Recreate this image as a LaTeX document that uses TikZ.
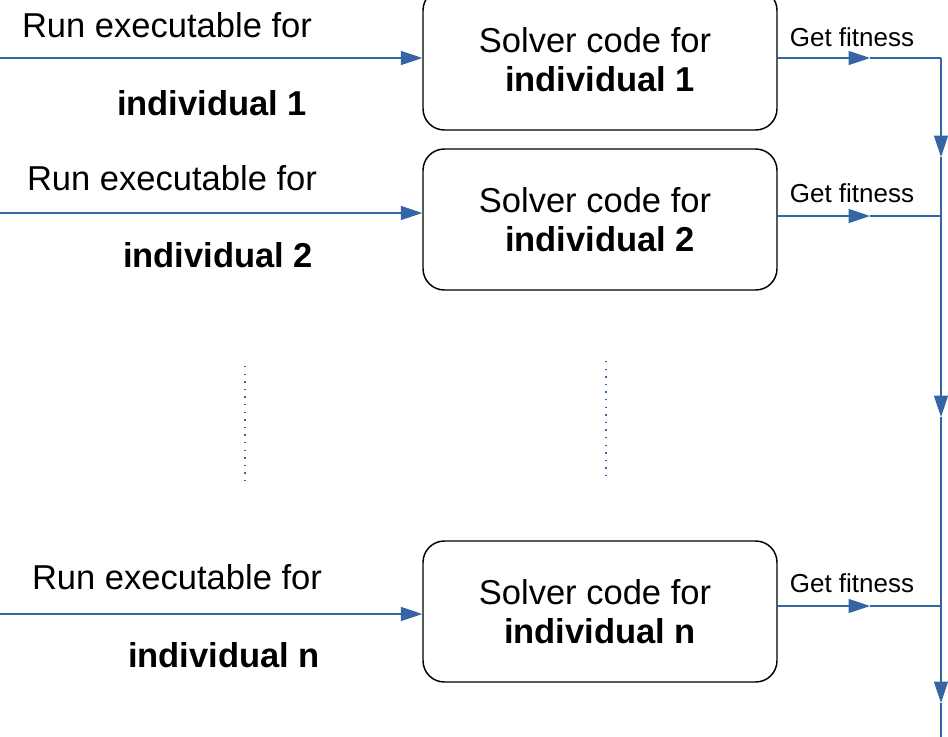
\documentclass[tikz,border=0pt]{standalone}
\usepackage{fontspec}
\setmainfont{Liberation Sans}
\usetikzlibrary{arrows.meta}
\definecolor{lblue}{HTML}{3465A4}
\begin{document}
\begin{tikzpicture}[x=0.75pt,y=-0.75pt,
  solver/.style={draw=black,line width=1.1pt,rounded corners=16pt,minimum width=265.5pt,minimum height=105.75pt,inner sep=0pt,align=center,font=\fontsize{25.9pt}{29pt}\selectfont},
  lbl/.style={inner sep=0pt,anchor=base,font=\fontsize{25.9pt}{29pt}\selectfont},
  fit/.style={inner sep=0pt,anchor=base,font=\fontsize{19.5pt}{22pt}\selectfont},
  flow/.style={draw=lblue,line width=0.9pt},
  tip/.style={flow,-{Triangle[length=16pt,width=10.5pt]}},
  dots/.style={draw=lblue,line width=1.5pt,dash pattern=on 1.1pt off 4.6pt}]
\useasboundingbox (0,0) rectangle (948,736);
\clip (0,0) rectangle (948,736);
% boxes
\node[solver] (b1) at (600,59.5) {Solver code for\hspace*{7.5pt}\\ \textbf{individual 1}};
\node[solver] (b2) at (600,219.5) {Solver code for\hspace*{7.5pt}\\ \textbf{individual 2}};
\node[solver] (bn) at (600,611.5) {Solver code for\hspace*{7.5pt}\\ \textbf{individual n}};
% left labels
\node[lbl] (r1a) at (167,37) {Run executable for};
\node[lbl] (r1b) at (212,115) {\textbf{individual 1}};
\node[lbl] (r2a) at (172,190) {Run executable for};
\node[lbl] (r2b) at (218,267) {\textbf{individual 2}};
\node[lbl] (rna) at (177,589) {Run executable for};
\node[lbl] (rnb) at (224,667) {\textbf{individual n}};
% get fitness labels
\node[fit] (g1) at (852,46) {Get fitness};
\node[fit] (g2) at (852,202) {Get fitness};
\node[fit] (gn) at (852,592) {Get fitness};
% input arrows
\coordinate (i1) at (0,58);
\coordinate (i2) at (0,213);
\coordinate (in) at (0,614);
\draw[tip] (i1) -- (i1 -| b1.west);
\draw[tip] (i2) -- (i2 -| b2.west);
\draw[tip] (in) -- (in -| bn.west);
% output arrows
\coordinate (o1) at (870,58);
\coordinate (o2) at (870,216);
\coordinate (on) at (870,606);
\coordinate (c1) at (941,58);
\coordinate (c2) at (941,216);
\coordinate (cn) at (941,606);
\draw[tip] (o1 -| b1.east) -- (o1);
\draw[flow] (o1) -- (c1);
\draw[tip] (o2 -| b2.east) -- (o2);
\draw[flow] (o2) -- (c2);
\draw[tip] (on -| bn.east) -- (on);
\draw[flow] (on) -- (cn);
% collector line
\coordinate (v1) at (941,157);
\coordinate (v2) at (941,417);
\coordinate (v3) at (941,703);
\coordinate (vend) at (941,740);
\draw[tip] (c1) -- (v1);
\draw[flow] (v1) -- (c2);
\draw[tip] (c2) -- (v2);
\draw[flow] (v2) -- (cn);
\draw[tip] (cn) -- (v3);
\draw[flow] (v3) -- (vend);
% dotted continuation
\coordinate (d1a) at (245,366);
\coordinate (d1b) at (245,482);
\coordinate (d2a) at (606,361);
\coordinate (d2b) at (606,476);
\draw[dots] (d1a) -- (d1b);
\draw[dots] (d2a) -- (d2b);
\end{tikzpicture}
\end{document}
